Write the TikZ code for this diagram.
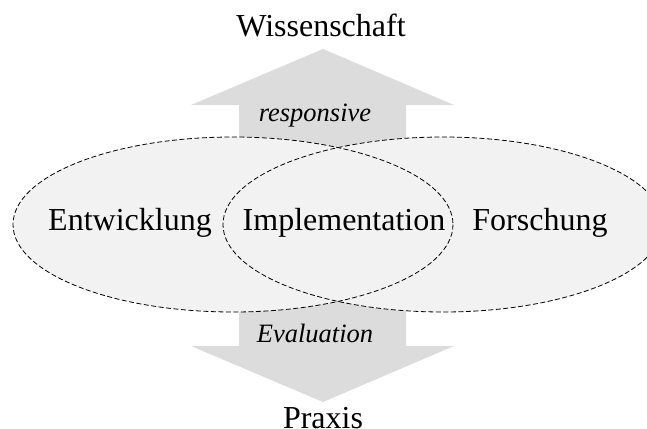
\documentclass[tikz,border=0pt]{standalone}
\usepackage{fontspec}
\setmainfont{Liberation Serif}
\definecolor{arrowgray}{HTML}{DCDCDC}
\definecolor{setgray}{HTML}{F2F2F2}
\begin{document}
\begin{tikzpicture}[x=1pt,y=-1pt,
  bigarrow/.style={fill=arrowgray,draw=none},
  setshape/.style={draw=black,line width=0.8pt,dash pattern=on 5pt off 2.5pt},
  label/.style={font=\fontsize{32}{38}\selectfont,inner sep=0pt,anchor=base},
  flowlabel/.style={font=\fontsize{26.5}{32}\selectfont\itshape,inner sep=0pt,anchor=base}]
\useasboundingbox (0,0) rectangle (647,428);
\clip (0,0) rectangle (647,428);

% broad arrows: upwards to science, downwards to practice
\fill[bigarrow] (239,224) -- (239,105) -- (191,105) -- (323,49)
  -- (454,105) -- (406,105) -- (406,224) -- cycle;
\fill[bigarrow] (239,224) -- (239,346) -- (191,346) -- (323,402)
  -- (454,346) -- (406,346) -- (406,224) -- cycle;

% the two overlapping areas
\fill[setgray] (233,224.5) ellipse [x radius=220, y radius=87.5];
\fill[setgray] (443,224.5) ellipse [x radius=220, y radius=87.5];
\draw[setshape] (233,224.5) ellipse [x radius=220, y radius=87.5];
\draw[setshape] (443,224.5) ellipse [x radius=220, y radius=87.5];

% texts
\node[label] (wiss) at (321,37) {Wissenschaft};
\node[label] (praxis) at (323,428) {Praxis};
\node[label] (entw) at (130,230) {Entwicklung};
\node[label] (impl) at (344,230) {Implementation};
\node[label] (forsch) at (540,230) {Forschung};
\node[flowlabel] (resp) at (315,121) {responsive};
\node[flowlabel] (eval) at (315,342) {Evaluation};
\end{tikzpicture}
\end{document}
